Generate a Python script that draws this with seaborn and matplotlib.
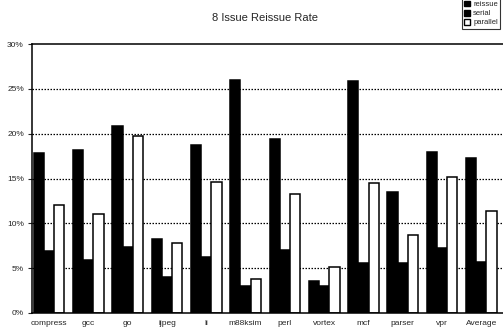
import matplotlib
matplotlib.use("Agg")
import matplotlib.pyplot as plt
import seaborn as sns
import pandas as pd

benchmarks = ["compress", "gcc", "go", "ijpeg", "li", "m88ksim", "perl",
              "vortex", "mcf", "parser", "vpr", "Average"]
reissue = [17.9, 18.2, 20.9, 8.3, 18.7, 26.05, 19.4, 3.6, 25.9, 13.45, 18.0, 17.3]
serial = [6.95, 5.9, 7.4, 4.05, 6.2, 3.0, 7.0, 3.0, 5.6, 5.6, 7.3, 5.7]
parallel = [12.0, 11.0, 19.7, 7.8, 14.6, 3.75, 13.3, 5.1, 14.5, 8.7, 15.2, 11.4]
series_names = ["reissue", "serial", "parallel"]
yticks = [0, 5, 10, 15, 20, 25, 30]

rows = []
for i, b in enumerate(benchmarks):
    for name, vals in zip(series_names, [reissue, serial, parallel]):
        rows.append({"benchmark": b, "series": name, "rate": vals[i]})
df = pd.DataFrame(rows)

sns.set_style("white")
plt.rcParams["font.family"] = ["Liberation Sans", "DejaVu Sans"]

fig = plt.figure(figsize=(5.03, 3.35), dpi=100)
ax = fig.add_axes([0.064, 0.066, 0.936, 0.802])

palette = {"reissue": "black", "serial": "black", "parallel": "white"}
sns.barplot(data=df, x="benchmark", y="rate", hue="series", palette=palette,
            ax=ax, width=0.78, edgecolor="black", linewidth=1.1,
            saturation=1, legend=False)

ax.set_ylim(0, 30)
ax.set_xlim(-0.43, len(benchmarks) - 0.45)
ax.set_yticks(yticks)
ax.set_yticklabels([f"{t}%" for t in yticks], fontsize=6)
ax.tick_params(axis="x", labelsize=6, length=0, pad=5)
ax.tick_params(axis="y", length=3, width=0.8, pad=3, left=True, direction="out")
ax.set_xlabel("")
ax.set_ylabel("")
for t in yticks[1:-1]:
    ax.axhline(t, color="black", linestyle=(0, (1.2, 1.2)), linewidth=0.9, zorder=0)
for s in ["left", "bottom", "top"]:
    ax.spines[s].set_visible(True)
    ax.spines[s].set_color("black")
    ax.spines[s].set_linewidth(1.1)
ax.spines["right"].set_visible(False)

fig.text(0.527, 0.945, "8 Issue Reissue Rate", ha="center", va="center", fontsize=8)

from matplotlib.patches import Patch
handles = [Patch(facecolor="black", edgecolor="black", label="reissue"),
           Patch(facecolor="black", edgecolor="black", label="serial"),
           Patch(facecolor="white", edgecolor="black", label="parallel")]
leg = fig.legend(handles=handles, loc="upper left", bbox_to_anchor=(0.918, 1.005),
                 fontsize=5.5, frameon=True, handlelength=0.8, handleheight=0.8,
                 handletextpad=0.4, borderpad=0.3, labelspacing=0.2,
                 fancybox=False, borderaxespad=0)
leg.get_frame().set_edgecolor("black")
leg.get_frame().set_linewidth(0.8)

fig.savefig("out.png", dpi=100)
